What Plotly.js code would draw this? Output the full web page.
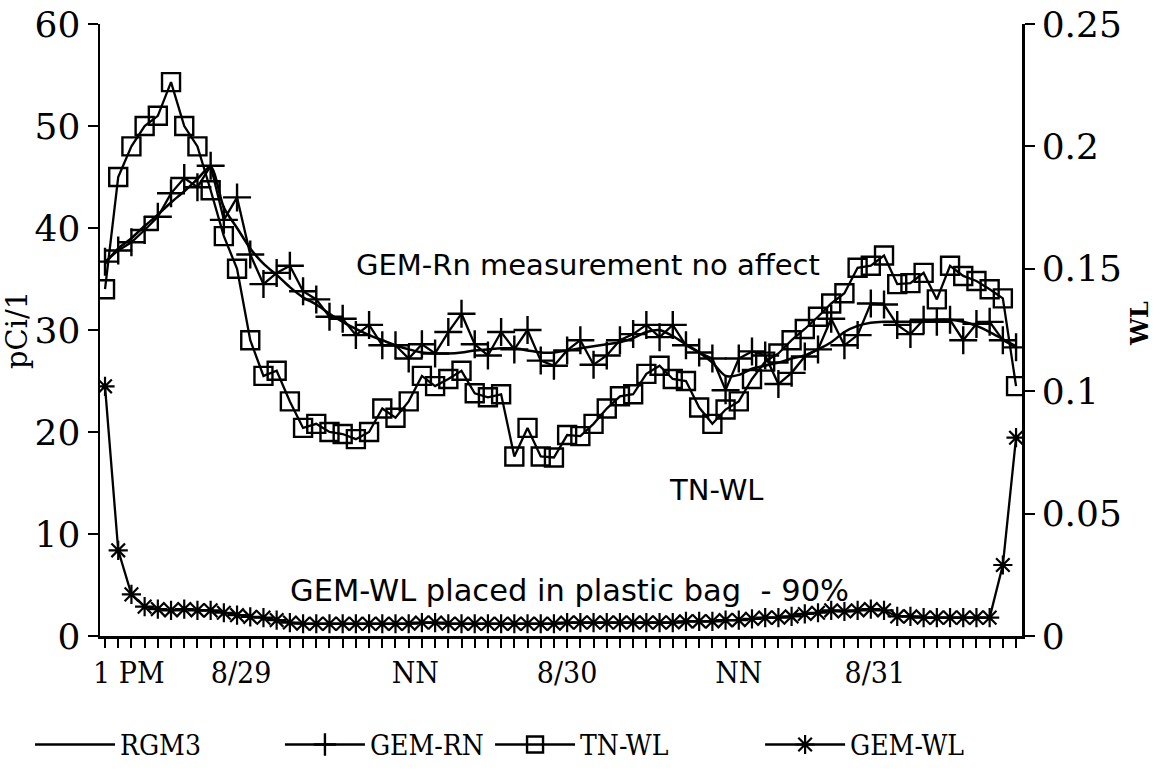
<!DOCTYPE html>
<html>
<head>
<meta charset="utf-8">
<script src="https://cdn.plot.ly/plotly-3.0.1.min.js"></script>
<style>
html,body{margin:0;padding:0;background:#fff;}
#chart{width:1164px;height:771px;}
</style>
</head>
<body>
<div id="chart"></div>
<script>
// Hours since 1 PM on 8/28
const hours = [0,1,2,3,4,5,6,7,8,9,10,11,12,13,14,15,16,17,18,19,20,21,22,23,24,25,26,27,28,29,30,31,32,33,34,35,36,37,38,39,40,41,42,43,44,45,46,47,48,49,50,51,52,53,54,55,56,57,58,59,60,61,62,63,64,65,66,67,68,69];

// RGM3 (pCi/l), smooth line
const rgm3 = [36.5,38.0,39.0,40.2,41.3,42.5,43.6,44.8,46.0,42.0,40.0,38.0,36.5,35.4,34.2,33.2,32.5,31.6,30.8,30.1,29.5,29.0,28.5,28.1,27.8,27.7,27.7,27.8,28.0,28.1,28.2,28.2,28.0,27.8,27.8,28.0,28.2,28.4,28.6,28.8,29.2,29.8,30.0,29.4,28.6,27.8,26.8,25.5,25.6,26.2,26.5,26.8,27.2,27.5,28.1,28.8,29.8,30.4,30.7,30.8,30.8,30.8,30.8,31.0,31.0,30.8,30.4,29.8,29.1,28.4];

// GEM-RN (pCi/l)
const gemRn = [36.7,37.8,38.6,39.8,41.1,43.4,44.9,44.0,46.1,40.8,43.0,37.4,34.5,35.6,36.3,33.8,33.0,31.3,31.1,29.5,30.5,28.5,28.5,27.2,28.6,27.7,29.8,31.6,28.6,27.5,29.8,28.1,30.0,27.0,26.5,28.0,29.0,26.6,27.5,29.0,29.6,30.5,29.3,30.5,28.5,27.8,27.2,24.1,27.2,27.9,27.5,24.7,25.8,27.4,28.1,31.1,28.5,29.5,32.6,32.5,30.5,29.6,31.0,30.8,31.0,29.0,30.6,30.8,29.0,28.3];

// TN-WL (plotted against the pCi/l scale)
const tnWl = [34.0,45.0,48.0,50.0,51.0,54.3,50.0,48.0,43.7,39.2,36.0,29.0,25.5,26.0,23.0,20.4,20.8,20.0,19.8,19.3,20.0,22.3,21.4,23.0,25.5,24.5,25.2,26.0,23.8,23.4,23.7,17.6,20.4,17.6,17.5,19.7,19.6,20.8,22.3,23.5,23.7,25.7,26.5,25.2,25.0,22.4,20.8,22.2,23.0,25.2,26.9,27.7,29.0,30.1,31.3,32.6,33.6,36.1,36.3,37.3,34.5,34.6,35.6,33.0,36.3,35.3,34.8,34.0,33.1,24.5];

// GEM-WL (WL, right axis)
const gemWl = [0.102,0.035,0.017,0.012,0.011,0.0105,0.011,0.0105,0.0105,0.0095,0.0085,0.0078,0.0075,0.0065,0.0055,0.005,0.005,0.005,0.005,0.005,0.005,0.005,0.005,0.005,0.0055,0.0055,0.005,0.005,0.005,0.005,0.005,0.005,0.005,0.005,0.005,0.0055,0.0055,0.0055,0.0055,0.0055,0.0055,0.0055,0.0055,0.0055,0.006,0.006,0.006,0.0065,0.0065,0.007,0.0075,0.0075,0.008,0.009,0.0095,0.0105,0.01,0.0105,0.011,0.0105,0.008,0.008,0.0075,0.0075,0.0075,0.0075,0.0075,0.0075,0.029,0.081];

// X tick labels
const xTickPos = [1.8, 10.3, 23.5, 35.0, 48.0, 58.3];
const xTickText = ['1 PM', '8/29', 'NN', '8/30', 'NN', '8/31'];
const yTicks = [0,10,20,30,40,50,60];
const y2Ticks = [0,0.05,0.1,0.15,0.2,0.25];
const y2TickText = ['0','0.05','0.1','0.15','0.2','0.25'];

const serif = "'DejaVu Serif', 'Liberation Serif', serif";
const cond = "'DejaVu Serif Condensed', 'Liberation Serif', serif";
const sans = "'DejaVu Sans', 'Liberation Sans', sans-serif";

const traces = [
  {x: hours, y: rgm3, name: 'RGM3', type: 'scatter', mode: 'lines', legend: 'legend',
   line: {color: 'black', width: 2.5, shape: 'spline', smoothing: 0.8}},
  {x: hours, y: gemRn, name: 'GEM-RN', type: 'scatter', mode: 'lines+markers', legend: 'legend2',
   line: {color: 'black', width: 2.3},
   marker: {symbol: 'cross-thin-open', size: 20, color: 'black', line: {color: 'black', width: 2.4}}},
  {x: hours, y: tnWl, name: 'TN-WL', type: 'scatter', mode: 'lines+markers', legend: 'legend3',
   line: {color: 'black', width: 2.3},
   marker: {symbol: 'square-open', size: 18, color: 'black', line: {color: 'black', width: 2.4}}},
  {x: hours, y: gemWl, name: 'GEM-WL', type: 'scatter', mode: 'lines+markers', yaxis: 'y2', legend: 'legend4',
   line: {color: 'black', width: 2.3},
   marker: {symbol: 'asterisk-open', size: 16, color: 'black', line: {color: 'black', width: 2.2}}}
];

function legendAt(xc) {
  return {orientation: 'h', xref: 'container', yref: 'container', x: xc, xanchor: 'left', y: 0.034, yanchor: 'middle',
          font: {family: cond, size: 28, color: 'black'}, itemwidth: 80, bgcolor: 'rgba(0,0,0,0)'};
}

const layout = {
  width: 1164, height: 771,
  paper_bgcolor: 'white', plot_bgcolor: 'white',
  margin: {l: 100, r: 142, t: 24, b: 135},
  showlegend: true,
  legend: legendAt(0.0258),
  legend2: legendAt(0.2405),
  legend3: legendAt(0.421),
  legend4: legendAt(0.653),
  xaxis: {range: [-0.38, 69.45], showgrid: false, zeroline: false,
          showline: true, linecolor: 'black', linewidth: 2.5,
          tickmode: 'array', tickvals: xTickPos, ticktext: xTickText, ticks: '',
          ticklabelstandoff: 8,
          tickfont: {family: cond, size: 30, color: 'black'},
          minor: {tickmode: 'linear', tick0: 0, dtick: 1, ticks: 'outside', ticklen: 9, tickwidth: 2, tickcolor: 'black', showgrid: false}},
  yaxis: {range: [0, 60], showgrid: false, zeroline: false,
          showline: true, linecolor: 'black', linewidth: 2.5,
          tickmode: 'array', tickvals: yTicks, ticks: 'outside', ticklen: 10, tickwidth: 2, tickcolor: 'black',
          tickfont: {family: serif, size: 36, color: 'black'},
          title: {text: 'pCi/1', font: {family: serif, size: 29, color: 'black'}, standoff: 4}},
  yaxis2: {range: [0, 0.25], overlaying: 'y', side: 'right', showgrid: false, zeroline: false,
           showline: true, linecolor: 'black', linewidth: 2.5,
           tickmode: 'array', tickvals: y2Ticks, ticktext: y2TickText, ticks: 'outside', ticklen: 10, tickwidth: 2, tickcolor: 'black',
           tickfont: {family: serif, size: 36, color: 'black'}},
  annotations: [
    {text: '<b>WL</b>', xref: 'paper', yref: 'paper', x: 1.146, y: 0.51, showarrow: false, textangle: -90,
     font: {family: serif, size: 24, color: 'black'}},
    {text: 'GEM-Rn measurement no affect', xref: 'x', yref: 'y', x: 36.6, y: 36.4, showarrow: false,
     font: {family: sans, size: 29, color: 'black'}},
    {text: 'TN-WL', xref: 'x', yref: 'y', x: 46.3, y: 14.3, showarrow: false,
     font: {family: sans, size: 29, color: 'black'}},
    {text: 'GEM-WL placed in plastic bag \u00a0- 90%', xref: 'x', yref: 'y', x: 35.2, y: 4.5, showarrow: false,
     font: {family: sans, size: 30.5, color: 'black'}}
  ]
};

Plotly.newPlot('chart', traces, layout, {staticPlot: true, displayModeBar: false});
</script>
</body>
</html>
